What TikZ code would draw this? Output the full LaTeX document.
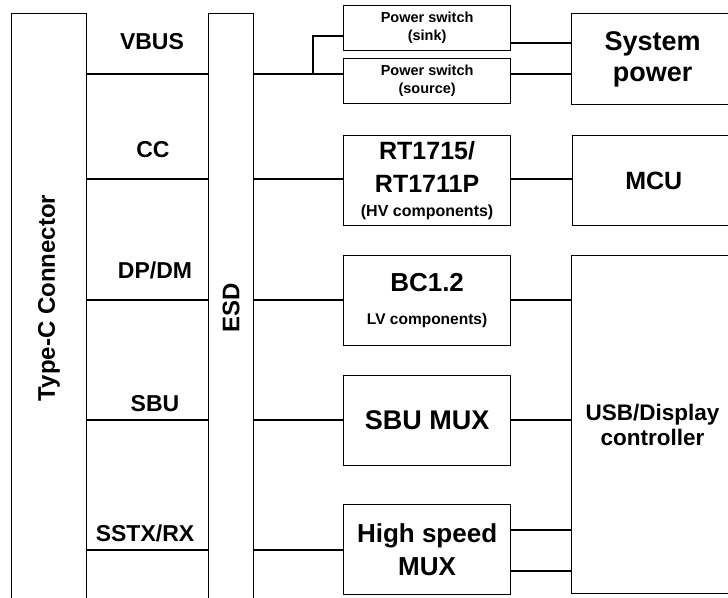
\documentclass[tikz,border=0pt]{standalone}
\usepackage{fontspec}
\setmainfont{Liberation Sans}
\usepackage{tikz}
\usetikzlibrary{positioning}

\newcommand{\fsz}[2]{\fontsize{#1}{#2}\selectfont}

\begin{document}
\begin{tikzpicture}[
  x=1pt, y=-1pt,
  node distance=61pt,
  every node/.style={font=\bfseries},
  blk/.style={draw, line width=1.2pt, inner sep=0pt, align=center},
  tallbox/.style={blk, minimum height=588pt, anchor=north west},
  swbox/.style={blk, minimum width=167pt, minimum height=45pt, anchor=north west},
  chipbox/.style={blk, minimum width=167pt, minimum height=90pt, anchor=north west},
  hostbox/.style={blk, minimum width=162pt},
  siglbl/.style={font=\bfseries\fsz{23}{28}},
  wire/.style={line width=1.2pt},
]
\useasboundingbox (0,0) rectangle (728,597);
\clip (0,0) rectangle (728,597);

% connector and ESD
\node[tallbox, minimum width=75pt] (conn) at (11,13) {};
\node[rotate=90, font=\bfseries\fsz{24}{28}] (connlbl) at (conn.center |- 0,298) {Type-C Connector};
\node[tallbox, minimum width=45pt] (esd) at (208,13) {\rotatebox{90}{\fsz{24}{28}ESD}};

% signal rows
\coordinate (rvbus) at (0,74);
\coordinate (rcc) at (0,179);
\coordinate (rdp) at (0,300);
\coordinate (rsbu) at (0,420);
\coordinate (rss) at (0,550);
\coordinate (rsink) at (0,36);
\coordinate (jvbus) at (313,74);

\node[siglbl] (lvbus) at (152,42) {VBUS};
\node[siglbl] (lcc) at (153,150) {CC};
\node[siglbl] (ldp) at (155,270) {DP/DM};
\node[siglbl] (lsbu) at (155,404) {SBU};
\node[siglbl] (lss) at (145,533) {SSTX/RX};

% middle column
\node[swbox, font=\bfseries\fsz{14.5}{18}] (psink) at (343,5) {Power switch\\(sink)};
\node[swbox, font=\bfseries\fsz{14.5}{18}] (psrc) at (343,58) {Power switch\\(source)};
\node[chipbox, font=\bfseries\fsz{25}{32}] (rt) at (343,135) {RT1715/\\RT1711P\\[-8pt]{\fsz{16}{20}(HV components)}};
\node[chipbox, font=\bfseries\fsz{26}{33}] (bc) at (343,255) {BC1.2\\{\fsz{15.5}{20}LV components)}};
\node[chipbox, font=\bfseries\fsz{27}{32}] (sbumux) at (343,375) {SBU MUX};
\node[chipbox, font=\bfseries\fsz{26}{33}] (hsmux) at (343,504) {High speed\\MUX};

% right column
\node[hostbox, minimum height=91pt, anchor=north west, font=\bfseries\fsz{27}{31}] (syspwr) at (571,13) {System\\power};
\node[hostbox, minimum height=90pt, right=of rt, font=\bfseries\fsz{25}{30}] (mcu) {MCU};
\node[hostbox, minimum height=338pt, anchor=north west, font=\bfseries\fsz{22.5}{25}] (usbctl) at (571,255) {USB/Display\\controller};

% wires
\foreach \r in {rvbus,rcc,rdp,rsbu,rss}
  \draw[wire] (conn.east |- \r) -- (esd.west |- \r);
\draw[wire] (esd.east |- rvbus) -- (psrc.west |- rvbus);
\draw[wire] (psink.west |- rsink) -| (jvbus);
\draw[wire] (psink.east |- 0,43) -- (syspwr.west |- 0,43);
\draw[wire] (psrc.east |- rvbus) -- (syspwr.west |- rvbus);
\draw[wire] (esd.east |- rcc) -- (rt.west |- rcc);
\draw[wire] (rt.east |- rcc) -- (mcu.west |- rcc);
\draw[wire] (esd.east |- rdp) -- (bc.west |- rdp);
\draw[wire] (bc.east |- rdp) -- (usbctl.west |- rdp);
\draw[wire] (esd.east |- rsbu) -- (sbumux.west |- rsbu);
\draw[wire] (sbumux.east |- rsbu) -- (usbctl.west |- rsbu);
\draw[wire] (esd.east |- rss) -- (hsmux.west |- rss);
\draw[wire] (hsmux.east |- 0,530) -- (usbctl.west |- 0,530);
\draw[wire] (hsmux.east |- 0,571) -- (usbctl.west |- 0,571);

\end{tikzpicture}
\end{document}
